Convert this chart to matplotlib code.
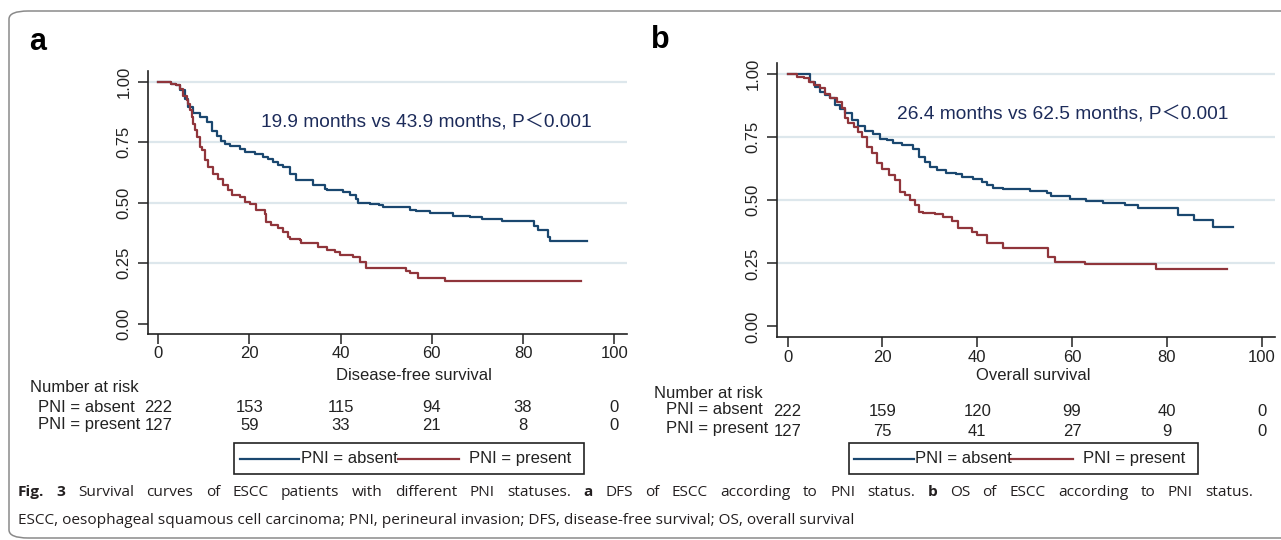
import matplotlib
matplotlib.use('Agg')
import matplotlib.pyplot as plt
from matplotlib.patches import FancyBboxPatch, Rectangle
from matplotlib.lines import Line2D
from matplotlib.transforms import blended_transform_factory

W, H = 1281, 540

BLUE = '#1a476f'
RED = '#90353b'
NAVY = '#1c2b5a'
GRID = '#dde7ec'
INK = '#222222'

plt.rcParams.update({
    'font.family': ['Liberation Sans', 'Noto Sans CJK SC', 'DejaVu Sans'],
    'font.size': 12,
})

# ---- (a) disease-free survival, Kaplan-Meier steps ----
dfs_absent_t = [0, 2.9, 4.0, 4.7, 5.8, 6.6, 7.7, 9.1, 10.6, 11.7, 12.8, 13.7,
                14.6, 15.7, 17.9, 19.0, 21.2, 23.0, 24.1, 25.2, 26.3, 27.4,
                28.8, 30.3, 31.8, 33.9, 36.5, 36.9, 40.5, 42.0, 43.4, 43.8,
                46.4, 48.5, 49.3, 55.1, 56.6, 59.5, 64.6, 68.3, 71.1, 75.3,
                82.4, 83.2, 85.4, 86.0, 94.0]
dfs_absent_s = [1.0, 0.99, 0.985, 0.965, 0.929, 0.894, 0.870, 0.853, 0.833,
                0.798, 0.774, 0.757, 0.741, 0.733, 0.723, 0.709, 0.702, 0.689,
                0.680, 0.668, 0.657, 0.647, 0.620, 0.595, 0.593, 0.572, 0.558,
                0.551, 0.545, 0.531, 0.517, 0.497, 0.494, 0.490, 0.483, 0.472,
                0.465, 0.456, 0.447, 0.440, 0.433, 0.425, 0.406, 0.388, 0.358,
                0.341, 0.341]

dfs_present_t = [0, 2.9, 4.0, 4.7, 5.5, 6.2, 6.6, 6.9, 7.3, 7.7, 8.1, 8.4,
                 9.1, 9.5, 10.2, 10.9, 12.0, 13.1, 14.2, 15.3, 16.1, 17.9,
                 19.0, 20.1, 21.5, 23.4, 23.7, 24.8, 26.3, 27.4, 28.5, 28.8,
                 31.0, 31.4, 33.2, 35.0, 36.9, 38.7, 39.8, 42.7, 44.2, 45.6,
                 54.4, 55.1, 56.9, 62.8, 92.8]
dfs_present_s = [1.0, 0.99, 0.985, 0.970, 0.942, 0.925, 0.908, 0.881, 0.853,
                 0.826, 0.80, 0.771, 0.730, 0.716, 0.675, 0.647, 0.620, 0.599,
                 0.572, 0.551, 0.534, 0.524, 0.503, 0.494, 0.469, 0.453, 0.421,
                 0.407, 0.394, 0.380, 0.359, 0.350, 0.346, 0.335, 0.332, 0.316,
                 0.305, 0.298, 0.284, 0.274, 0.257, 0.229, 0.219, 0.208, 0.188,
                 0.177, 0.177]

# ---- (b) overall survival ----
os_absent_t = [0, 4.8, 5.8, 6.9, 7.9, 9.0, 10.0, 11.1, 12.1, 13.5, 14.9, 16.4,
               18.1, 19.5, 20.9, 22.3, 24.1, 26.5, 27.6, 29.0, 30.0, 31.4,
               33.5, 35.6, 36.7, 39.2, 40.9, 42.0, 43.4, 45.5, 51.1, 54.6,
               55.6, 59.5, 63.0, 66.5, 71.1, 73.9, 82.3, 85.8, 89.7, 93.9]
os_absent_s = [1.0, 0.97, 0.95, 0.930, 0.917, 0.904, 0.877, 0.860, 0.844,
               0.818, 0.794, 0.776, 0.763, 0.741, 0.739, 0.728, 0.719, 0.702,
               0.673, 0.653, 0.633, 0.620, 0.609, 0.604, 0.594, 0.583, 0.574,
               0.561, 0.550, 0.544, 0.538, 0.528, 0.515, 0.504, 0.499, 0.491,
               0.482, 0.468, 0.442, 0.422, 0.393, 0.393]

os_present_t = [0, 2.0, 3.4, 4.4, 5.5, 6.9, 7.9, 9.0, 10.4, 11.4, 12.1, 12.8,
                13.9, 14.9, 15.6, 16.7, 17.8, 18.8, 19.9, 21.3, 22.7, 23.7,
                24.8, 25.8, 26.9, 27.6, 28.6, 31.1, 32.8, 34.6, 36.0, 38.8,
                39.9, 42.0, 45.5, 54.9, 56.4, 62.7, 77.6, 92.6]
os_present_s = [1.0, 0.99, 0.983, 0.970, 0.956, 0.943, 0.923, 0.904, 0.890,
                0.864, 0.825, 0.805, 0.792, 0.772, 0.752, 0.712, 0.686, 0.646,
                0.623, 0.600, 0.580, 0.534, 0.521, 0.501, 0.482, 0.455, 0.449,
                0.446, 0.435, 0.416, 0.389, 0.376, 0.363, 0.330, 0.310, 0.277,
                0.257, 0.248, 0.227, 0.227]

x_ticks = [0, 20, 40, 60, 80, 100]
y_ticks = [0.0, 0.25, 0.50, 0.75, 1.00]
group_labels = ['PNI = absent', 'PNI = present']

dfs_risk_absent = [222, 153, 115, 94, 38, 0]
dfs_risk_present = [127, 59, 33, 21, 8, 0]
os_risk_absent = [222, 159, 120, 99, 40, 0]
os_risk_present = [127, 75, 41, 27, 9, 0]

dfs_note = '19.9 months vs 43.9 months, P\uff1c0.001'
os_note = '26.4 months vs 62.5 months, P\uff1c0.001'

caption_line1 = [('Fig.', 'bold'), ('3', 'bold'),
                 ('Survival curves of ESCC patients with different PNI statuses.', 'normal'),
                 ('a', 'bold'), ('DFS of ESCC according to PNI status.', 'normal'),
                 ('b', 'bold'), ('OS of ESCC according to PNI status.', 'normal')]
caption_line2 = ('ESCC, oesophageal squamous cell carcinoma; PNI, perineural '
                 'invasion; DFS, disease-free survival; OS, overall survival')


def fx(x):
    return x / W


def fy(y):
    return 1 - y / H


fig = plt.figure(figsize=(W / 100, H / 100), dpi=100)

# outer rounded frame
fig.add_artist(FancyBboxPatch((fx(9), fy(538)), fx(1300 - 9), fy(11) - fy(538),
                              boxstyle='round,pad=0,rounding_size=0.015',
                              transform=fig.transFigure, fill=False,
                              ec='#8a8a8a', lw=1.1))


def panel(box, ta, sa, tp, sp, note, note_xy, xlabel, xlabel_x,
          risk_a, risk_p, letter_xy, letter, rows):
    left, right, top, bottom = box
    ax = fig.add_axes([fx(left), fy(bottom), fx(right - left), fy(top) - fy(bottom)])
    ax.step(ta, sa, where='post', color=BLUE, lw=1.6, zorder=3)
    ax.step(tp, sp, where='post', color=RED, lw=1.6, zorder=3)
    ax.set_xlim(-2.25, 102.8)
    ax.set_ylim(-0.042, 1.044)
    ax.set_xticks(x_ticks)
    ax.set_yticks(y_ticks)
    ax.set_yticklabels([f'{v:.2f}' for v in y_ticks], rotation=90, va='center')
    ax.tick_params(axis='both', direction='out', length=7, width=1.1,
                   color=INK, labelsize=12, labelcolor=INK)
    ax.tick_params(axis='y', pad=5)
    ax.tick_params(axis='x', pad=2)
    for s in ['top', 'right']:
        ax.spines[s].set_visible(False)
    for s in ['left', 'bottom']:
        ax.spines[s].set_linewidth(1.2)
        ax.spines[s].set_color(INK)
    ax.set_axisbelow(True)
    ax.yaxis.grid(True, color=GRID, lw=1.6)
    ax.yaxis.get_gridlines()[0].set_visible(False)
    ax.text(note_xy[0], note_xy[1], note, color=NAVY, fontsize=13.8,
            va='center', ha='left')

    fig.text(fx(xlabel_x), fy(375), xlabel, ha='center', va='center',
             fontsize=12, color=INK)
    fig.text(fx(letter_xy[0]), fy(letter_xy[1]), letter, fontsize=22,
             fontweight='bold', ha='left', va='center', color='black')

    # number-at-risk table
    (head_x, head_y), lab_x, lab_ys, num_ys = rows
    fig.text(fx(head_x), fy(head_y), 'Number at risk', ha='left',
             va='center', fontsize=12, color=INK)
    tr = blended_transform_factory(ax.transData, fig.transFigure)
    for lab, ly, ny, vals in zip(group_labels, lab_ys, num_ys, [risk_a, risk_p]):
        fig.text(fx(lab_x), fy(ly), lab, ha='left', va='center',
                 fontsize=12, color=INK)
        for t, v in zip(x_ticks, vals):
            ax.text(t, fy(ny), str(v), transform=tr, ha='center',
                    va='center', fontsize=12, color=INK, clip_on=False)
    return ax


panel((148, 627, 71, 334), dfs_absent_t, dfs_absent_s, dfs_present_t,
      dfs_present_s, dfs_note, (22.6, 0.83), 'Disease-free survival', 414,
      dfs_risk_absent, dfs_risk_present, (29, 42), 'a',
      ((30, 388), 38, (407, 425), (407, 425)))

panel((777, 1275, 63, 337), os_absent_t, os_absent_s, os_present_t,
      os_present_s, os_note, (23.0, 0.84), 'Overall survival', 1033,
      os_risk_absent, os_risk_present, (651, 40), 'b',
      ((654, 393), 666, (410, 428), (412, 431)))


def legend(x0, x1, xs):
    y0, y1 = 443, 474
    yc = (y0 + y1) / 2
    fig.add_artist(Rectangle((fx(x0), fy(y1)), fx(x1 - x0), fy(y0) - fy(y1),
                             transform=fig.transFigure, fill=False,
                             ec=INK, lw=1.2))
    for (la, lb, tx), col, lab in zip(xs, [BLUE, RED], group_labels):
        fig.add_artist(Line2D([fx(la), fx(lb)], [fy(yc), fy(yc)],
                              transform=fig.transFigure, color=col, lw=1.6))
        fig.text(fx(tx), fy(yc), lab, ha='left', va='center', fontsize=12,
                 color=INK)


legend(234, 584, [(240, 299, 301), (398, 459, 469)])
legend(849, 1198, [(854, 914, 915), (1010, 1073, 1083)])

# caption: first line justified between x=18 and x=1253, with bold fragments
renderer = fig.canvas.get_renderer()
cap_kw = dict(family='Open Sans', fontsize=11.1, ha='left', va='center',
              color='#231f20')
words = []
for txt, wt in caption_line1:
    for wd in txt.split(' '):
        words.append((wd, wt))
arts = [fig.text(0, fy(492), wd, fontweight=wt, **cap_kw) for wd, wt in words]
widths = [a.get_window_extent(renderer).width for a in arts]
gap = (1253 - 18 - sum(widths)) / (len(arts) - 1)
x = 18
for a, w in zip(arts, widths):
    a.set_x(fx(x))
    x += w + gap
fig.text(fx(18), fy(521), caption_line2, **cap_kw)

fig.savefig('out.png', dpi=100)
